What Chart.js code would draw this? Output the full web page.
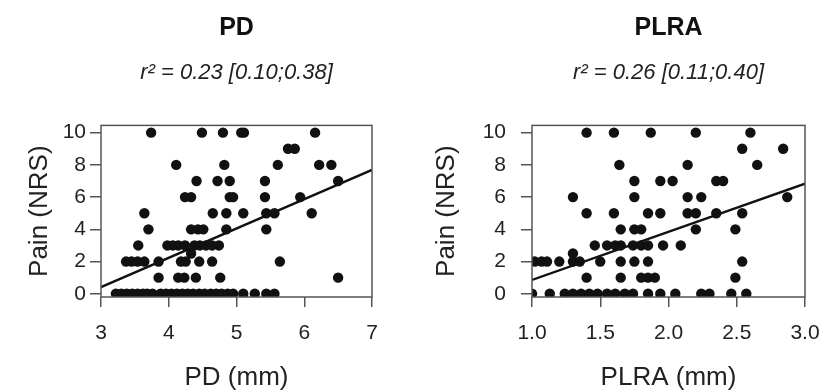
<!DOCTYPE html>
<html>
<head>
<meta charset="utf-8">
<script src="https://cdn.jsdelivr.net/npm/chart.js@4.4.1/dist/chart.umd.min.js"></script>
<style>
    body { margin: 0; background: #fff; overflow: hidden; width: 825px; height: 392px; position: relative; }
    canvas { position: absolute; top: 0; }
    #pdChart { left: 0; }
    #plraChart { left: 412px; }
</style>
</head>
<body>
<canvas id="pdChart" width="473" height="392"></canvas>
<canvas id="plraChart" width="513" height="392"></canvas>
<script>
// ============================================
// Data
// ============================================
const painTicks = [0, 2, 4, 6, 8, 10];
const pdTicks = [3, 4, 5, 6, 7];
const plraTicks = [1.0, 1.5, 2.0, 2.5, 3.0];

// PD (mm) vs pain
const pdX = [
    3.74, 4.49, 4.80, 5.07, 5.11, 6.16,
    5.76, 5.86,
    4.11, 4.82, 5.61, 6.22, 6.40,
    4.41, 4.72, 4.90, 5.42, 6.50,
    4.24, 4.33, 4.90, 4.95, 5.42, 5.94,
    3.64, 4.65, 4.85, 5.10, 5.44, 5.56, 6.11,
    3.70, 4.33, 4.43, 4.51, 4.85, 5.44,
    3.55, 3.98, 4.06, 4.14, 4.24, 4.38, 4.46, 4.55, 4.64, 4.74,
    4.33,
    3.37, 3.45, 3.54, 3.64, 3.85, 4.18, 4.25, 4.45, 4.64, 5.64,
    3.85, 4.14, 4.23, 4.40, 4.76, 6.50,
    3.22, 3.30, 3.38, 3.46, 3.54, 3.62, 3.68, 3.76, 3.88, 3.96, 4.04, 4.12, 4.20,
    4.28, 4.36, 4.45, 4.53, 4.62, 4.70, 4.78, 4.87, 4.95, 5.10, 5.27, 5.44, 5.56
];
const pdPain = [
    10, 10, 10, 10, 10, 10,
    9, 9,
    8, 8, 8, 8, 8,
    7, 7, 7, 7, 7,
    6, 6, 6, 6, 6, 6,
    5, 5, 5, 5, 5, 5, 5,
    4, 4, 4, 4, 4, 4,
    3, 3, 3, 3, 3, 3, 3, 3, 3, 3,
    2.5,
    2, 2, 2, 2, 2, 2, 2, 2, 2, 2,
    1, 1, 1, 1, 1, 1,
    0, 0, 0, 0, 0, 0, 0, 0, 0, 0, 0, 0, 0,
    0, 0, 0, 0, 0, 0, 0, 0, 0, 0, 0, 0, 0
];
const pdFitX = [3, 7];
const pdFitY = [0.41, 7.69];

// PLRA (mm) vs pain
const plraX = [
    1.40, 1.60, 1.87, 2.20, 2.60,
    2.54, 2.84,
    1.64, 2.14, 2.65,
    1.75, 1.94, 2.03, 2.35, 2.40,
    1.30, 1.75, 2.14, 2.24, 2.87,
    1.40, 1.60, 1.85, 1.94, 2.14, 2.20, 2.35, 2.54,
    1.65, 1.75, 1.80, 2.20, 2.49,
    1.46, 1.55, 1.61, 1.65, 1.74, 1.80, 1.85, 1.96, 2.09,
    1.30,
    1.02, 1.07, 1.11, 1.20, 1.30, 1.35, 1.50, 1.65, 1.75, 1.85, 2.54,
    1.40, 1.65, 1.80, 1.85, 1.90, 2.49,
    1.00, 1.13, 1.24, 1.30, 1.36, 1.42, 1.48, 1.55, 1.61, 1.68, 1.74, 1.85,
    1.94, 2.05, 2.24, 2.30, 2.46, 2.57
];
const plraPain = [
    10, 10, 10, 10, 10,
    9, 9,
    8, 8, 8,
    7, 7, 7, 7, 7,
    6, 6, 6, 6, 6,
    5, 5, 5, 5, 5, 5, 5, 5,
    4, 4, 4, 4, 4,
    3, 3, 3, 3, 3, 3, 3, 3, 3,
    2.5,
    2, 2, 2, 2, 2, 2, 2, 2, 2, 2, 2,
    1, 1, 1, 1, 1, 1,
    0, 0, 0, 0, 0, 0, 0, 0, 0, 0, 0, 0,
    0, 0, 0, 0, 0, 0
];
const plraFitX = [1, 3];
const plraFitY = [0.86, 6.83];

// ============================================
// Shared look
// ============================================
Chart.defaults.font.family = '"Liberation Sans", Arial, Helvetica, sans-serif';
Chart.defaults.color = '#222';

const axisGray = '#555';

// draws the closed box round the plot region, like R's box()
const boxPlugin = {
    id: 'box',
    afterDraw(chart) {
        const { ctx, chartArea: a } = chart;
        ctx.save();
        ctx.strokeStyle = axisGray;
        ctx.lineWidth = 1.5;
        ctx.strokeRect(a.left, a.top, a.right - a.left, a.bottom - a.top);
        ctx.restore();
    }
};

function toPoints(xs, ys) {
    return xs.map((x, i) => ({ x: x, y: ys[i] }));
}

// ============================================
// Build one panel
// ============================================
function makePanel(canvasId, opts) {
    const ctx = document.getElementById(canvasId).getContext('2d');
    return new Chart(ctx, {
        type: 'scatter',
        data: {
            datasets: [{
                data: toPoints(opts.xs, opts.ys),
                backgroundColor: '#111',
                borderWidth: 0,
                pointRadius: 5.2,
                order: 2
            }, {
                type: 'line',
                data: toPoints(opts.fitX, opts.fitY),
                borderColor: '#111',
                borderWidth: 2.4,
                pointRadius: 0,
                fill: false,
                order: 1
            }]
        },
        options: {
            responsive: false,
            animation: false,
            devicePixelRatio: 1,
            layout: { padding: 0 },
            plugins: {
                legend: { display: false },
                tooltip: { enabled: false },
                title: {
                    display: true,
                    text: opts.title,
                    font: { size: 25, weight: 'bold', lineHeight: 1.2 },
                    color: '#111',
                    padding: { top: 13, bottom: 0 }
                },
                subtitle: {
                    display: true,
                    text: opts.subtitle,
                    font: { size: 22, style: 'italic', lineHeight: 1.2 },
                    color: '#222',
                    padding: { top: 17, bottom: 39 }
                }
            },
            scales: {
                x: {
                    type: 'linear',
                    min: opts.xTicks[0],
                    max: opts.xTicks[opts.xTicks.length - 1],
                    afterBuildTicks: axis => {
                        axis.ticks = opts.xTicks.map(v => ({ value: v }));
                    },
                    afterFit: scale => { scale.height = 95; },
                    border: { display: false },
                    grid: {
                        drawOnChartArea: false,
                        drawTicks: true,
                        tickLength: 10,
                        tickColor: axisGray,
                        lineWidth: 1.5
                    },
                    ticks: {
                        font: { size: 21 },
                        padding: 14,
                        maxRotation: 0,
                        callback: opts.xFormat
                    },
                    title: {
                        display: true,
                        text: opts.xLabel,
                        font: { size: 26, lineHeight: 1 },
                        padding: { top: 0, bottom: 1 }
                    }
                },
                y: {
                    type: 'linear',
                    min: -0.2,
                    max: 10.45,
                    afterBuildTicks: axis => {
                        axis.ticks = painTicks.map(v => ({ value: v }));
                    },
                    afterFit: scale => { scale.width = opts.yWidth; },
                    border: { display: false },
                    grid: {
                        drawOnChartArea: false,
                        drawTicks: true,
                        tickLength: 11,
                        tickColor: axisGray,
                        lineWidth: 1.5
                    },
                    ticks: {
                        font: { size: 21 },
                        padding: opts.yTickPad
                    },
                    title: {
                        display: true,
                        text: 'Pain (NRS)',
                        font: { size: 26, lineHeight: 1.2 },
                        padding: { top: opts.yTitleOffset, bottom: 0 }
                    }
                },
                // empty right axis, only reserves space so titles centre over the plot
                yRight: {
                    type: 'linear',
                    position: 'right',
                    min: 0,
                    max: 10,
                    afterFit: scale => { scale.width = opts.yWidth; },
                    border: { display: false },
                    grid: { display: false },
                    ticks: { display: false },
                    title: { display: false }
                }
            }
        },
        plugins: [boxPlugin]
    });
}

makePanel('pdChart', {
    xs: pdX, ys: pdPain, fitX: pdFitX, fitY: pdFitY,
    xTicks: pdTicks,
    xFormat: v => String(v),
    title: 'PD',
    subtitle: 'r² = 0.23 [0.10;0.38]',
    xLabel: 'PD (mm)',
    yWidth: 101,
    yTickPad: 4,
    yTitleOffset: 24
});

makePanel('plraChart', {
    xs: plraX, ys: plraPain, fitX: plraFitX, fitY: plraFitY,
    xTicks: plraTicks,
    xFormat: v => Number(v).toFixed(1),
    title: 'PLRA',
    subtitle: 'r² = 0.26 [0.11;0.40]',
    xLabel: 'PLRA (mm)',
    yWidth: 120,
    yTickPad: 15,
    yTitleOffset: 19
});
</script>
</body>
</html>
